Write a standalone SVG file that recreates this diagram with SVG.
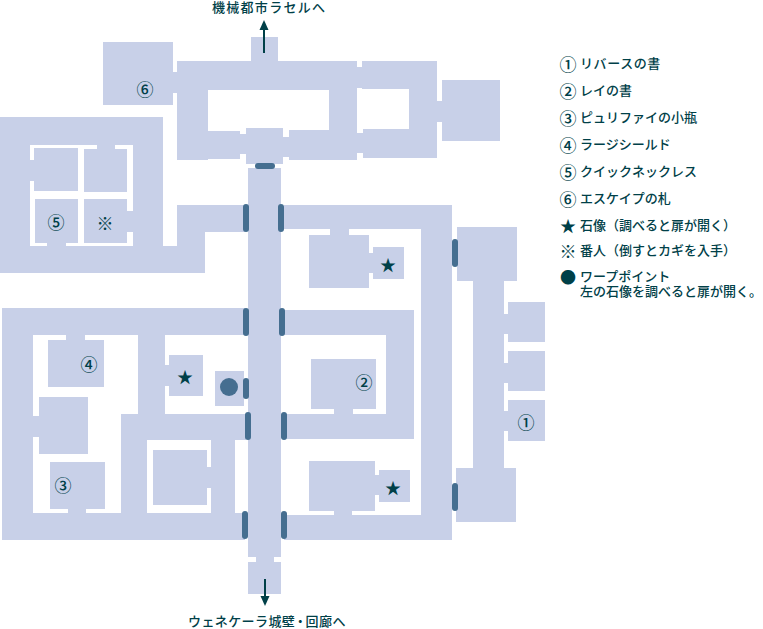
<svg xmlns="http://www.w3.org/2000/svg" width="763" height="629" viewBox="0 0 763 629">
<style>
.r{fill:#c8d0e8}
.d{fill:#456e90}
.w{fill:#fff}
text{font-family:"Noto Sans CJK JP","Liberation Sans",sans-serif;fill:#004048;font-size:13px;font-weight:500}
.t{font-family:"Liberation Sans","Noto Sans CJK JP",sans-serif}
.m{text-anchor:middle;dominant-baseline:central;font-size:17px;font-weight:500}
.s{text-anchor:middle;dominant-baseline:central;font-size:16px;font-weight:500}
.c{stroke:#004048;stroke-width:2;fill:none}
.h{fill:#004048}
</style>
<rect width="763" height="629" fill="#fff"/>
<g id="north-wing" class="r">
<rect x="177" y="61" width="180" height="29"/><rect x="177" y="61" width="31" height="99"/><rect x="208" y="131" width="32" height="28"/>
<rect x="240" y="134" width="6" height="20"/><rect x="283" y="137" width="6" height="20"/><rect x="289" y="130" width="68" height="30"/>
<rect x="329" y="61" width="28" height="99"/><rect x="251" y="37" width="27" height="24"/>
<rect x="357" y="67" width="5" height="21"/><rect x="362" y="61" width="75" height="28"/><rect x="409" y="61" width="28" height="97"/>
<rect x="363" y="129" width="74" height="29"/><rect x="357" y="133" width="6" height="20"/><rect x="437" y="101" width="5" height="21"/>
<rect x="173" y="72" width="4" height="21"/>
</g>
<g id="room-6" class="r"><rect x="103" y="42" width="70" height="63"/></g>
<g id="room-hall" class="r"><rect x="246" y="128" width="37" height="36"/></g>
<g id="room-east" class="r"><rect x="442" y="80" width="58" height="61"/></g>
<g id="west-block" class="r">
<rect x="0" y="117" width="163" height="156"/><rect x="163" y="246" width="42" height="27"/><rect x="177" y="205" width="28" height="68"/><rect x="177" y="205" width="68" height="27"/>
<rect class="w" x="30" y="145" width="103" height="101"/>
<rect x="34" y="148" width="44" height="43"/><rect x="84" y="149" width="43" height="43"/>
<rect x="35" y="199" width="43" height="44"/><rect x="84" y="199" width="43" height="44"/>
<rect x="30" y="160" width="4" height="21"/><rect x="97" y="145" width="18" height="4"/><rect x="127" y="211" width="6" height="21"/><rect x="47" y="243" width="19" height="3"/>
</g>
<g id="main-corridor" class="r">
<rect x="248" y="168" width="33" height="389"/><rect x="256" y="557" width="18" height="5"/><rect x="248" y="562" width="33" height="32"/>
</g>
<g id="south-west-wing" class="r">
<rect x="2" y="308" width="243" height="27"/><rect x="2" y="308" width="31" height="232"/><rect x="2" y="513" width="243" height="27"/>
<rect x="48" y="340" width="56" height="47"/><rect x="66" y="335" width="19" height="5"/>
<rect x="39" y="397" width="49" height="57"/><rect x="33" y="416" width="6" height="21"/>
<rect x="50" y="462" width="55" height="47"/><rect x="68" y="509" width="18" height="4"/>
<rect x="138" y="335" width="27" height="79"/><rect x="165" y="365" width="4" height="21"/><rect x="169" y="355" width="34" height="41"/>
<rect x="215" y="371" width="29" height="35"/>
<rect x="121" y="414" width="125" height="26"/><rect x="121" y="414" width="26" height="99"/><rect x="211" y="414" width="24" height="99"/>
<rect x="153" y="450" width="54" height="55"/><rect x="207" y="467" width="4" height="21"/>
</g>
<g id="south-east-wing" class="r">
<rect x="284" y="205" width="168" height="24"/><rect x="421" y="205" width="31" height="335"/><rect x="284" y="515" width="168" height="25"/>
<rect x="309" y="235" width="60" height="53"/><rect x="330" y="229" width="19" height="6"/><rect x="373" y="247" width="31" height="32"/><rect x="369" y="253" width="4" height="20"/>
<rect x="284" y="310" width="130" height="25"/><rect x="386" y="310" width="28" height="129"/><rect x="284" y="414" width="130" height="25"/>
<rect x="311" y="359" width="65" height="50"/><rect x="334" y="409" width="19" height="5"/>
<rect x="309" y="461" width="66" height="50"/><rect x="334" y="511" width="18" height="4"/><rect x="379" y="470" width="31" height="32"/><rect x="375" y="475" width="4" height="20"/>
</g>
<g id="far-east-wing" class="r">
<rect x="457" y="227" width="60" height="54"/><rect x="473" y="281" width="31" height="187"/><rect x="456" y="468" width="60" height="54"/>
<rect x="508" y="302" width="37" height="40"/><rect x="508" y="351" width="37" height="40"/><rect x="508" y="400" width="37" height="41"/>
<rect x="504" y="314" width="4" height="20"/><rect x="504" y="363" width="4" height="20"/><rect x="504" y="411" width="4" height="20"/>
</g>
<g id="doors" class="d">
<rect x="255" y="163" width="20" height="6" rx="3"/>
<rect x="243" y="204" width="6" height="28" rx="3"/><rect x="278" y="204" width="6" height="28" rx="3"/>
<rect x="243" y="308" width="6" height="28" rx="3"/><rect x="279" y="308" width="6" height="28" rx="3"/>
<rect x="243" y="378" width="6" height="21" rx="3"/>
<rect x="245" y="412" width="6" height="28" rx="3"/><rect x="281" y="412" width="6" height="28" rx="3"/>
<rect x="242" y="511" width="6" height="28" rx="3"/><rect x="281" y="511" width="6" height="28" rx="3"/>
<rect x="452" y="239" width="6" height="28" rx="3"/><rect x="452" y="483" width="6" height="28" rx="3"/>
<circle cx="229" cy="387" r="9"/>
</g>
<g id="connectors">
<path class="c" d="M264 53V26"/><path class="h" d="M264 20l-4.500 10h9z"/>
<path class="c" d="M265 579V600"/><path class="h" d="M265 606l-4.500 -10h9z"/>
</g>
<g id="map-labels">
<text class="m" x="145" y="88">⑥</text><text class="m" x="56" y="221">⑤</text><text class="m" x="105" y="222">※</text>
<text class="m" x="89" y="363">④</text><text class="m" x="63" y="484">③</text><text class="m" x="364" y="381">②</text><text class="m" x="526" y="421">①</text>
<text class="s" x="185" y="376">★</text><text class="s" x="388" y="264">★</text><text class="s" x="393" y="487">★</text>
<text class="t" x="212" y="12" textLength="113" lengthAdjust="spacing">機械都市ラセルへ</text>
<text class="t" x="188" y="626" letter-spacing="0.4">ウェネケーラ城壁<tspan dx="-1.500">・</tspan><tspan dx="-1.500">回廊へ</tspan></text>
</g>
<g id="legend">
<text class="m" x="568" y="63">①</text><text x="580" y="68" letter-spacing="0.6">リバースの書</text>
<text class="m" x="568" y="90">②</text><text x="580" y="95">レイの書</text>
<text class="m" x="568" y="117">③</text><text x="580" y="122">ピュリファイの小瓶</text>
<text class="m" x="568" y="144">④</text><text x="580" y="149">ラージシールド</text>
<text class="m" x="568" y="171">⑤</text><text x="580" y="176">クイックネックレス</text>
<text class="m" x="568" y="198">⑥</text><text x="580" y="203">エスケイプの札</text>
<text class="s" x="568" y="225">★</text><text x="580" y="230">石像（調べると扉が開く）</text>
<text class="m" x="568" y="250">※</text><text x="580" y="255">番人（倒すとカギを入手）</text>
<text class="s" x="568" y="276">●</text>
<text class="t" x="580" y="280.500">ワープポイント</text>
<text class="t" x="580" y="295.500">左の石像を調べると扉が開く。</text>
</g>
</svg>
